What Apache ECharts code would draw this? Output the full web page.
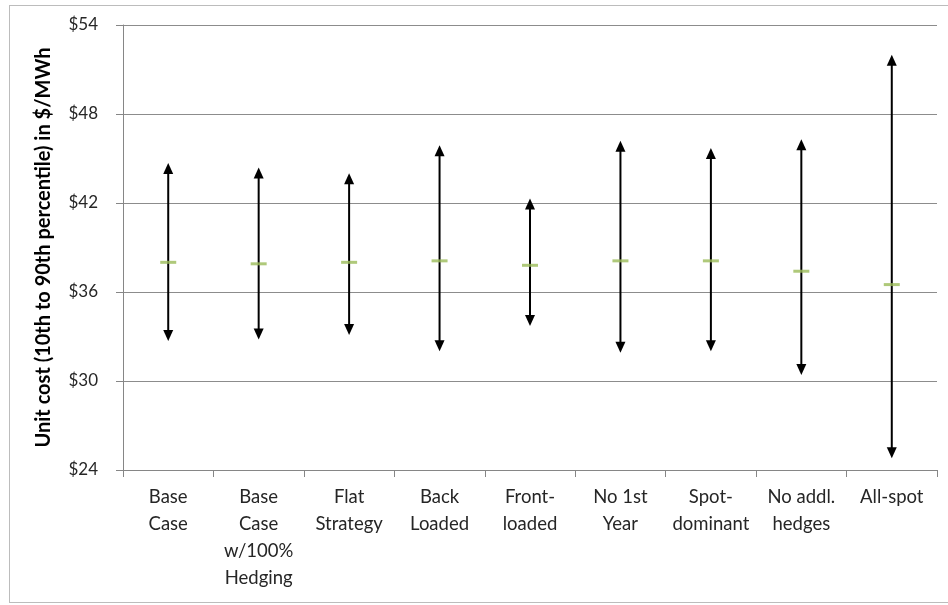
<!DOCTYPE html>
<html>
<head>
<meta charset="utf-8">
<script src="https://cdn.jsdelivr.net/npm/echarts@6/dist/echarts.min.js"></script>
<style>
html,body{margin:0;padding:0;background:#fff;}
#frame{position:absolute;left:9px;top:5px;width:945px;height:598px;border:1px solid #bcbcbc;box-sizing:border-box;}
#chart{position:absolute;left:0;top:0;width:948px;height:605px;}
</style>
</head>
<body>
<div id="frame"></div>
<div id="chart"></div>
<script>
const categories = ['Base\nCase', 'Base\nCase\nw/100%\nHedging', 'Flat\nStrategy', 'Back\nLoaded', 'Front-\nloaded', 'No 1st\nYear', 'Spot-\ndominant', 'No addl.\nhedges', 'All-spot'];
const low10 = [32.7, 32.8, 33.1, 32.0, 33.7, 31.9, 32.0, 30.4, 24.8];
const high90 = [44.7, 44.4, 44.0, 45.9, 42.3, 46.2, 45.7, 46.3, 52.0];
const mid = [38.0, 37.9, 38.0, 38.1, 37.8, 38.1, 38.1, 37.4, 36.5];
const yTicks = [24, 30, 36, 42, 48, 54];

const chart = echarts.init(document.getElementById('chart'));
const font = 'Lato, "Open Sans", sans-serif';
chart.setOption({
  animation: false,
  grid: {left: 123, right: 11, top: 25, bottom: 135},
  xAxis: {
    type: 'category',
    data: categories,
    boundaryGap: true,
    axisLine: {lineStyle: {color: '#868686', width: 1}},
    axisTick: {show: true, length: 7, lineStyle: {color: '#868686'}},
    axisLabel: {color: '#262626', fontFamily: font, fontSize: 18.5, lineHeight: 27, margin: 14, interval: 0}
  },
  yAxis: {
    type: 'value',
    min: yTicks[0], max: yTicks[yTicks.length - 1], interval: 6,
    name: 'Unit cost (10th to 90th percentile) in $/MWh',
    nameLocation: 'middle', nameGap: 69,
    nameTextStyle: {fontFamily: font, fontSize: 20, fontWeight: 'bold', color: '#000'},
    axisLine: {show: true, lineStyle: {color: '#868686'}},
    axisTick: {show: true, length: 7, lineStyle: {color: '#868686'}},
    axisLabel: {color: '#262626', fontFamily: font, fontSize: 17, margin: 25, formatter: v => '$' + v},
    splitLine: {show: true, lineStyle: {color: '#8c8c8c', width: 1}}
  },
  series: [
    {
      type: 'custom',
      data: categories.map((c, i) => [i, low10[i], high90[i]]),
      renderItem: function (params, api) {
        const lo = api.coord([api.value(0), api.value(1)]);
        const hi = api.coord([api.value(0), api.value(2)]);
        const x = lo[0];
        const hw = 5, hh = 11;
        return {
          type: 'group',
          children: [
            {type: 'line', shape: {x1: x, y1: hi[1] + hh - 1, x2: x, y2: lo[1] - hh + 1}, style: {stroke: '#000', lineWidth: 2}},
            {type: 'polygon', shape: {points: [[x, hi[1]], [x - hw, hi[1] + hh], [x + hw, hi[1] + hh]]}, style: {fill: '#000'}},
            {type: 'polygon', shape: {points: [[x, lo[1]], [x - hw, lo[1] - hh], [x + hw, lo[1] - hh]]}, style: {fill: '#000'}}
          ]
        };
      },
      z: 2
    },
    {
      type: 'scatter',
      data: mid.map((v, i) => [i, v]),
      symbol: 'rect',
      symbolSize: [16, 3],
      itemStyle: {color: '#9bbb59'},
      z: 3
    }
  ]
});
</script>
</body>
</html>
